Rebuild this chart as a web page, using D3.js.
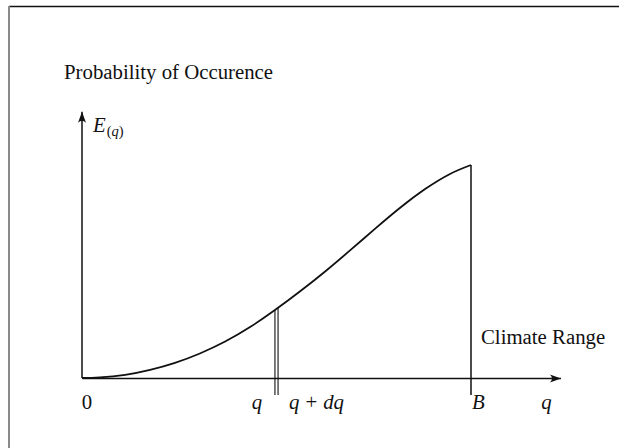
<!DOCTYPE html>
<html><head><meta charset="utf-8">
<script src="https://cdn.jsdelivr.net/npm/d3@7"></script>
<style>
html,body{margin:0;padding:0;background:#fff;}
svg{display:block;}
text{font-family:"Liberation Serif","DejaVu Serif","Times New Roman",serif;fill:#111;}
</style></head>
<body>
<svg id="chart" width="619" height="448"></svg>
<script>
// ---- data ----
const qValues = [0, 0.046, 0.111, 0.175, 0.239, 0.303, 0.368, 0.432, 0.496, 0.560, 0.625, 0.689, 0.753, 0.817, 0.882, 0.946, 1.0];
const eValues = [0, 0.003, 0.015, 0.038, 0.071, 0.115, 0.171, 0.239, 0.319, 0.406, 0.500, 0.599, 0.700, 0.798, 0.887, 0.958, 1.0];
const stripQ = [0.496, 0.504];   // q and q+dq
const boundB = 1.0;              // B
const axisMaxQ = 1.23;
const axisMaxE = 1.25;
const dropBelow = -0.08;
const title = "Probability of Occurence";
const yLabel = "E";
const rangeLabel = "Climate Range";

const svg = d3.select("#chart");
const x = d3.scaleLinear().domain([0, 1]).range([82, 471]);
const y = d3.scaleLinear().domain([0, 1]).range([378, 165]);

// frame (cropped rectangle)
svg.append("line").attr("x1", 9).attr("x2", 619).attr("y1", 6.5).attr("y2", 6.5)
  .attr("stroke", "#111").attr("stroke-width", 1.5);
svg.append("line").attr("x1", 9).attr("x2", 9).attr("y1", 6).attr("y2", 448)
  .attr("stroke", "#8a8a8a").attr("stroke-width", 2);

// arrow marker
const defs = svg.append("defs");
defs.append("marker").attr("id", "arr").attr("viewBox", "0 -5 12 10")
  .attr("refX", 11).attr("refY", 0).attr("markerWidth", 12).attr("markerHeight", 10)
  .attr("markerUnits", "userSpaceOnUse").attr("orient", "auto")
  .append("path").attr("d", "M0,-4 Q4,0 0,4 L11,0 Z").attr("fill", "#111");

// axes (no ticks)
const xAxisScale = x.copy().domain([0, axisMaxQ]).range([x(0), x(axisMaxQ)]);
const yAxisScale = y.copy().domain([0, axisMaxE]).range([y(0), y(axisMaxE)]);
const gx = svg.append("g").attr("transform", `translate(0,${y(0)})`)
  .call(d3.axisBottom(xAxisScale).tickValues([]).tickSizeOuter(0));
gx.select(".domain").attr("stroke", "#111").attr("stroke-width", 1.5)
  .attr("marker-end", "url(#arr)");
const gy = svg.append("g").attr("transform", `translate(${x(0)},0)`)
  .call(d3.axisLeft(yAxisScale).tickValues([]).tickSizeOuter(0));
gy.select(".domain").attr("stroke", "#111").attr("stroke-width", 1.5)
  .attr("d", `M0,${y(0)}V${y(axisMaxE)}`)
  .attr("marker-end", "url(#arr)");

// curve
const pts = qValues.map((q, i) => [q, eValues[i]]);
const line = d3.line().x(d => x(d[0])).y(d => y(d[1])).curve(d3.curveNatural);
svg.append("path").datum(pts).attr("d", line).attr("fill", "none")
  .attr("stroke", "#111").attr("stroke-width", 1.8);

function eAt(q) {
  for (let i = 1; i < qValues.length; i++) {
    if (q <= qValues[i]) {
      const t = (q - qValues[i-1]) / (qValues[i] - qValues[i-1]);
      return eValues[i-1] + t * (eValues[i] - eValues[i-1]);
    }
  }
  return eValues[eValues.length - 1];
}

// strip lines
svg.selectAll(".strip").data(stripQ).enter().append("line")
  .attr("x1", d => x(d)).attr("x2", d => x(d))
  .attr("y1", d => y(eAt(d))).attr("y2", y(dropBelow))
  .attr("stroke", "#111").attr("stroke-width", 1.1);

// B line
svg.append("line").attr("x1", x(boundB)).attr("x2", x(boundB))
  .attr("y1", y(eAt(boundB))).attr("y2", y(dropBelow))
  .attr("stroke", "#111").attr("stroke-width", 1.5);

// texts
const fs = 20.8;
svg.append("text").attr("x", 64).attr("y", 79).attr("font-size", fs).text(title);
svg.append("text").attr("x", 481).attr("y", 344).attr("font-size", fs).text(rangeLabel);

const yl = svg.append("text").attr("x", x(0) + 11).attr("y", 132).attr("font-size", fs);
yl.append("tspan").attr("font-style", "italic").text(yLabel);
yl.append("tspan").attr("font-size", 14.5).attr("dy", 4).attr("dx", 1).text("(");
yl.append("tspan").attr("font-size", 14.5).attr("font-style", "italic").text("q");
yl.append("tspan").attr("font-size", 14.5).text(")");

svg.append("text").attr("x", x(0) + 5).attr("y", 409).attr("font-size", fs)
  .attr("text-anchor", "middle").text("0");
svg.append("text").attr("x", x(stripQ[0]) - 18).attr("y", 409).attr("font-size", fs)
  .attr("text-anchor", "middle").attr("font-style", "italic").text("q");
const qdq = svg.append("text").attr("x", x(stripQ[1]) + 11).attr("y", 409).attr("font-size", fs);
qdq.append("tspan").attr("font-style", "italic").text("q");
qdq.append("tspan").attr("dx", 6).text("+");
qdq.append("tspan").attr("dx", 6).attr("font-style", "italic").text("dq");
svg.append("text").attr("x", x(boundB) + 1).attr("y", 409).attr("font-size", fs)
  .attr("font-style", "italic").text("B");
svg.append("text").attr("x", x(axisMaxQ) - 14).attr("y", 409).attr("font-size", fs)
  .attr("text-anchor", "middle").attr("font-style", "italic").text("q");
</script>
</body></html>
